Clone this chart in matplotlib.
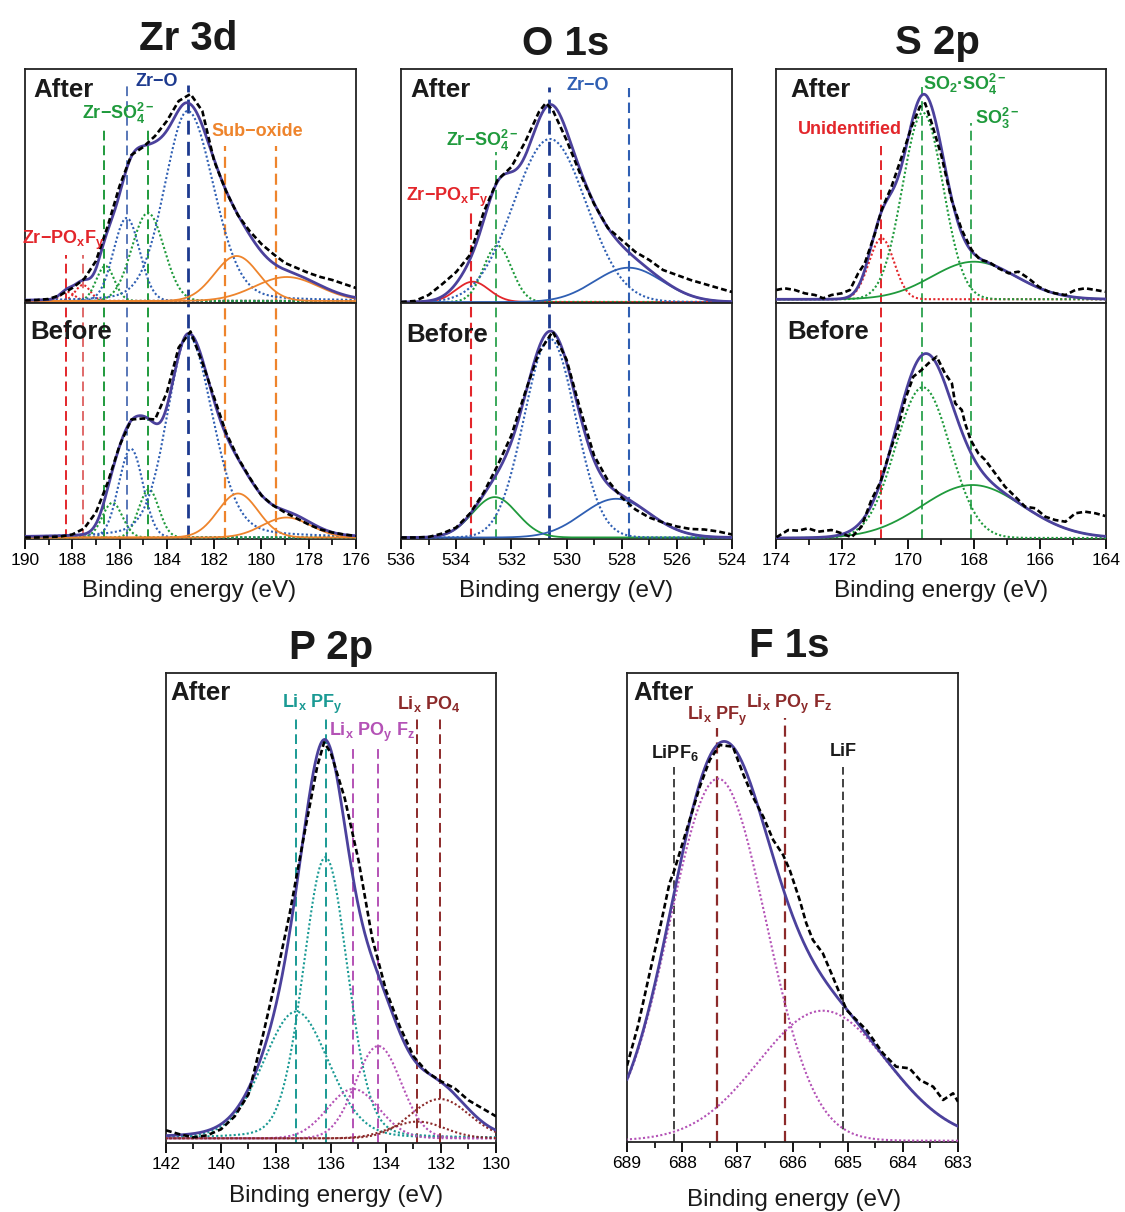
import numpy as np
import matplotlib
matplotlib.use("Agg")
import matplotlib.pyplot as plt
from matplotlib.ticker import MultipleLocator

plt.rcParams['font.family'] = ['Liberation Sans', 'DejaVu Sans']
plt.rcParams['mathtext.fontset'] = 'custom'
plt.rcParams['mathtext.rm'] = 'Liberation Sans'
plt.rcParams['mathtext.bf'] = 'Liberation Sans:bold'
plt.rcParams['mathtext.it'] = 'Liberation Sans:italic'
plt.rcParams['mathtext.sf'] = 'Liberation Sans'

# ---------------------------------------------------------------- data
# fitted components: centre (eV), height (a.u.), FWHM high-BE side, FWHM low-BE side (eV),
# Lorentzian fraction
zr_after_center = [188.2, 187.55, 186.6, 185.7, 184.8, 183.12, 181.05, 178.93]
zr_after_height = [9, 16, 35, 83, 88, 190, 45, 24]
zr_after_fwhm = [0.7, 0.75, 0.9, 1.3, 1.6, 2.3, 2.2, 3.2]
zr_after_fwhm_lo = [0.7, 0.75, 0.9, 1.3, 1.6, 2.6, 2.2, 3.2]
zr_after_eta = [0, 0, 0, 0, 0, 0.18, 0, 0]
zr_after_E = [190, 189.5, 189, 188.5, 188, 187.5, 187, 186.5, 186, 185.5, 185, 184.5, 184,
              183.5, 183, 182.5, 182, 181.5, 181, 180.5, 180, 179.5, 179, 178.5, 178, 177.5,
              177, 176.5, 176]
zr_after_counts = [0.5, 1, 2, 6, 13, 22, 40, 75, 115, 146, 154, 165, 180, 200, 207, 190, 140,
                   110, 86, 70, 57, 47, 38, 33, 28, 24, 21, 17, 13]

zr_before_center = [186.3, 185.52, 184.76, 183.1, 180.99, 178.94]
zr_before_height = [34.7, 88.7, 48, 202, 44, 20]
zr_before_fwhm = [1.0, 1.2, 1.0, 2.1, 2.0, 2.4]
zr_before_fwhm_lo = [1.0, 1.2, 1.0, 2.45, 2.0, 2.4]
zr_before_eta = [0, 0, 0, 0.25, 0, 0]
zr_before_E = zr_after_E
zr_before_counts = [0, 0, 0.5, 1, 3, 9, 25, 55, 92, 118, 119, 118, 145, 190, 206, 175, 140,
                    105, 80, 60, 42, 32, 25, 19, 13, 8, 5, 3, 1.5]
zr_ref_E = [188.25, 187.55, 186.65, 185.7, 184.8, 183.12, 181.55, 179.4]

o_after_center = [533.4, 532.5, 530.6, 527.75, 530.6]
o_after_height = [20.3, 56.3, 163, 34.3, 32]
o_after_fwhm = [1.4, 1.2, 3.1, 2.9, 1.3]
o_after_eta = [0, 0, 0, 0, 0]
o_after_E = [536, 535.5, 535, 534.5, 534, 533.5, 533, 532.5, 532, 531.5, 531, 530.75, 530.5,
             530, 529.5, 529, 528.5, 528, 527.5, 527, 526.5, 526, 525.5, 525, 524.5, 524]
o_after_counts = [0, 1, 7, 18, 30, 47, 90, 122, 135, 160, 190, 199, 192, 162, 128, 98, 74, 62,
                  50, 42, 32, 27, 22, 18, 14, 10]

o_before_center = [532.6, 530.6, 528.2]
o_before_height = [40.4, 198.7, 38.7]
o_before_fwhm = [1.9, 2.2, 2.9]
o_before_eta = [0, 0, 0]
o_before_E = [536, 535.5, 535, 534.5, 534, 533.5, 533, 532.5, 532, 531.5, 531, 530.5, 530,
              529.5, 529, 528.5, 528, 527.5, 527, 526.5, 526, 525.5, 525, 524.5, 524]
o_before_counts = [0, 0, 0.5, 4, 10, 24, 45, 72, 102, 145, 185, 206, 178, 128, 82, 57, 40,
                   28, 20, 15, 11, 8.5, 8, 6, 3]
o_ref_E = [533.45, 532.55, 530.62, 527.75]

s_after_center = [170.8, 169.55, 168.0]
s_after_height = [61, 186.6, 37.6]
s_after_fwhm = [0.9, 1.45, 3.0]
s_after_eta = [0, 0, 0]
s_after_E = [173.99, 173.74, 173.43, 173.13, 172.82, 172.57, 172.32, 172.01, 171.76, 171.51,
             171.31, 171.0, 170.8, 170.5, 170.19, 169.89, 169.64, 169.48, 169.28, 168.98,
             168.68, 168.37, 168.07, 167.81, 167.56, 167.26, 166.95, 166.65, 166.35, 166.04,
             165.74, 165.54, 165.23, 164.93, 164.63, 164.32, 164.02]
s_after_counts = [9.3, 11, 9.3, 6, 4.3, 1, 4.3, 6, 9.3, 26, 36, 66, 89.3, 112.6, 142.6, 172.6,
                  192.6, 196, 176, 142.6, 99.3, 69.3, 49.3, 39.3, 37.6, 31, 26, 27.6, 21,
                  12.6, 7.6, 6, 4.3, 9.3, 11, 9.3, 7.6]

s_before_center = [169.55, 168.05]
s_before_height = [150.7, 53]
s_before_fwhm = [1.95, 3.6]
s_before_eta = [0, 0]
s_before_E = [173.99, 173.63, 173.33, 173.03, 172.72, 172.32, 172.01, 171.71, 171.41, 171.11,
              170.83, 170.6, 170.29, 170.09, 169.84, 169.59, 169.38, 169.13, 168.88, 168.67,
              168.57, 168.37, 168.27, 168.1, 167.87, 167.66, 167.36, 167.06, 166.75, 166.45,
              166.14, 165.84, 165.54, 165.23, 164.93, 164.63, 164.32, 164.02]
s_before_counts = [0.7, 8, 7.3, 9.7, 6.3, 8, 4.7, 0.7, 11.3, 38, 56.3, 81.3, 111.3, 138,
                   161.3, 168, 174.7, 181.3, 164.7, 154.7, 134.7, 128, 114.7, 98, 84.7, 78,
                   64.7, 51.3, 41.3, 31.3, 29.7, 21.3, 18, 16.3, 24.7, 26.3, 24.7, 22]
s_ref_E = [170.83, 169.57, 168.1]

p_center = [137.27, 136.2, 135.19, 134.28, 132.85, 132.04]
p_height = [126.7, 281, 49.3, 92.3, 16.7, 39.3]
p_fwhm = [2.8, 1.9, 2.2, 1.95, 2.3, 2.5]
p_eta = [0.15, 0.15, 0, 0, 0, 0]
p_E = [142, 141.5, 141, 140.5, 140, 139.5, 139, 138.5, 138, 137.5, 137, 136.5, 136.25, 136,
       135.5, 135, 134.5, 134, 133.5, 133, 132.5, 132, 131.5, 131, 130.5, 130]
p_counts = [8, 4, 1, 3, 9, 22, 44, 100, 160, 225, 300, 372, 396, 385, 340, 278, 200, 148, 112,
            82, 66, 57, 50, 38, 30, 22]
p_ref_E = [137.27, 136.18, 135.19, 134.28, 132.88, 132.04]

f_center = [687.35, 685.45]
f_height = [362, 130]
f_fwhm = [2.05, 2.75]
f_eta = [0, 0]
f_E = [689.0, 688.8, 688.6, 688.41, 688.23, 688.14, 687.92, 687.68, 687.5, 687.32, 687.08,
       686.9, 686.72, 686.53, 686.35, 686.17, 686.05, 685.87, 685.75, 685.63, 685.45, 685.27,
       685.02, 684.66, 684.36, 684.12, 683.88, 683.69, 683.45, 683.27, 683.09, 683.0]
f_counts = [75, 115, 165, 210.7, 257.4, 270.7, 310.7, 354, 380.7, 395.7, 394, 367.4, 344, 324,
            300.7, 285.7, 270.7, 240.7, 217.4, 200.7, 187.4, 164, 130.7, 110.7, 87.4, 74, 72.4,
            60.7, 54, 40.7, 47.4, 39]
f_ref_E = [688.14, 687.37, 686.13, 685.08]

# ---------------------------------------------------------------- styles
RED = '#e3262b'; RED2 = '#e06a6a'
GREEN = '#1f9a3c'; GREENL = '#3aa85a'
BLUE = '#2f5fb3'; NAVY = '#1d3a8f'; BLUEL = '#5877b8'
ORANGE = '#ee842c'
TEAL = '#1a9a94'; MAG = '#b452b6'; BROWN = '#8c2a2a'
ENV = '#4b419c'
DOT = (0, (1, 1.1))

W, H = 1125, 1212
fig = plt.figure(figsize=(W / 100, H / 100), dpi=100)


def add_ax(l, t, w, h):
    return fig.add_axes([l / W, 1 - (t + h) / H, w / W, h / H])


def pv(x, c, h, w_hi, w_lo, eta):
    w = np.where(x >= c, w_hi, w_lo)
    d = (x - c) / w
    return h * ((1 - eta) * np.exp(-4 * np.log(2) * d ** 2) + eta / (1 + 4 * d ** 2))


def spectrum(ax, lo, hi, cen, hgt, fw, fw_lo, eta, styles, E, counts, ylim):
    x = np.linspace(lo, hi, 800)
    env = np.zeros_like(x)
    for c, h, w1, w2, e, st in zip(cen, hgt, fw, fw_lo, eta, styles):
        y = pv(x, c, h, w1, w2, e)
        env += y
        if st is None:
            continue
        col, ls = st
        ax.plot(x, y, color=col, ls=ls, lw=1.5 if ls != '-' else 1.3, zorder=3)
    ax.plot(x, env, color=ENV, lw=2.0, zorder=5)
    ax.plot(E, counts, color='black', lw=1.9, ls=(0, (2.2, 1.2)), zorder=6)
    ax.set_xlim(hi, lo)
    ax.set_ylim(*ylim)
    ax.set_yticks([])
    for s in ax.spines.values():
        s.set_linewidth(1.3)
        s.set_color('#222222')


def refs(ax, E, cols, tops, lws=None):
    for i, (e, c, t) in enumerate(zip(E, cols, tops)):
        lw = 1.4 if lws is None else lws[i]
        ax.axvline(e, 0, t, color=c, lw=lw, ls=(0, (5, 2.6)), zorder=2)


def xaxis(ax, major, minor, show=True):
    ax.xaxis.set_major_locator(MultipleLocator(major))
    ax.xaxis.set_minor_locator(MultipleLocator(minor))
    if show:
        ax.tick_params(axis='x', which='major', direction='out', length=7, width=1.3,
                       labelsize=12.5, pad=3)
        ax.tick_params(axis='x', which='minor', direction='out', length=4, width=1.2)
    else:
        ax.tick_params(axis='x', which='both', length=0, labelbottom=False)


def ftext(x, y, s, **kw):
    fig.text(x / W, 1 - y / H, s, **kw)


LAB = dict(fontsize=13, fontweight='bold', ha='center', va='center')
BIG = dict(fontsize=18.5, fontweight='bold', ha='left', va='center', color='#1a1a1a')
TIT = dict(fontsize=29, fontweight='bold', ha='center', va='baseline', color='#1a1a1a')
XL = dict(fontsize=17.5, ha='center', va='baseline', color='#1a1a1a')

# ---------------------------------------------------------------- Zr 3d
za = add_ax(25, 69, 331, 234)
zb = add_ax(25, 303, 331, 236)
zr_ref_cols = [RED, RED2, GREEN, BLUEL, GREEN, NAVY, ORANGE, ORANGE]
zr_ref_lw = [1.4, 1.4, 1.4, 1.4, 1.4, 2.0, 1.6, 1.6]
refs(za, zr_ref_E, zr_ref_cols, [0.205, 0.205, 0.739, 0.932, 0.739, 0.932, 0.671, 0.671], zr_ref_lw)
refs(zb, zr_ref_E, zr_ref_cols, [1] * 8, zr_ref_lw)
spectrum(za, 176, 190, zr_after_center, zr_after_height, zr_after_fwhm, zr_after_fwhm_lo,
         zr_after_eta,
         [(RED, DOT), (RED, DOT), (GREEN, DOT), (BLUE, DOT), (GREEN, DOT), (BLUE, DOT),
          (ORANGE, '-'), (ORANGE, '-')], zr_after_E, zr_after_counts, (-2, 232))
spectrum(zb, 176, 190, zr_before_center, zr_before_height, zr_before_fwhm, zr_before_fwhm_lo,
         zr_before_eta,
         [(GREEN, DOT), (BLUE, DOT), (GREEN, DOT), (BLUE, DOT), (ORANGE, '-'), (ORANGE, '-')],
         zr_before_E, zr_before_counts, (-1.5, 234.5))
xaxis(za, 2, 1, False); xaxis(zb, 2, 1)

# ---------------------------------------------------------------- O 1s
oa = add_ax(401, 69, 331, 234)
ob = add_ax(401, 303, 331, 236)
o_ref_cols = [RED, GREENL, NAVY, BLUE]
o_ref_lw = [1.5, 1.4, 2.0, 1.5]
refs(oa, o_ref_E, o_ref_cols, [0.397, 0.647, 0.924, 0.919], o_ref_lw)
refs(ob, o_ref_E, o_ref_cols, [1] * 4, o_ref_lw)
spectrum(oa, 524, 536, o_after_center, o_after_height, o_after_fwhm, o_after_fwhm, o_after_eta,
         [(RED, '-'), (GREEN, DOT), (BLUE, DOT), (BLUE, '-'), None],
         o_after_E, o_after_counts, (-1, 233))
spectrum(ob, 524, 536, o_before_center, o_before_height, o_before_fwhm, o_before_fwhm,
         o_before_eta, [(GREEN, '-'), (BLUE, DOT), (BLUE, '-')], o_before_E, o_before_counts,
         (-1.5, 234.5))
xaxis(oa, 2, 1, False); xaxis(ob, 2, 1)

# ---------------------------------------------------------------- S 2p
sa = add_ax(776, 69, 330, 234)
sb = add_ax(776, 303, 330, 236)
s_ref_cols = [RED, GREENL, GREENL]
refs(sa, s_ref_E, s_ref_cols, [0.671, 0.924, 0.768])
refs(sb, s_ref_E, s_ref_cols, [1] * 3)
spectrum(sa, 164, 174, s_after_center, s_after_height, s_after_fwhm, s_after_fwhm, s_after_eta,
         [(RED, DOT), (GREEN, DOT), (GREEN, '-')], s_after_E, s_after_counts, (-3.7, 230.3))
spectrum(sb, 164, 174, s_before_center, s_before_height, s_before_fwhm, s_before_fwhm,
         s_before_eta, [(GREEN, DOT), (GREEN, '-')], s_before_E, s_before_counts, (-1, 235))
xaxis(sa, 2, 1, False); xaxis(sb, 2, 1)

# ---------------------------------------------------------------- P 2p
pa = add_ax(166, 673, 330, 470)
refs(pa, p_ref_E, [TEAL, TEAL, MAG, MAG, BROWN, BROWN], [0.904, 0.904, 0.84, 0.84, 0.904, 0.904])
spectrum(pa, 130, 142, p_center, p_height, p_fwhm, p_fwhm, p_eta,
         [(TEAL, DOT), (TEAL, DOT), (MAG, DOT), (MAG, DOT), (BROWN, DOT), (BROWN, DOT)],
         p_E, p_counts, (-4.7, 465.3))
xaxis(pa, 2, 1)

# ---------------------------------------------------------------- F 1s
fa = add_ax(627, 673, 331, 469)
refs(fa, f_ref_E, ['#222222', BROWN, BROWN, '#222222'], [0.80, 0.882, 0.903, 0.80],
     [1.2, 1.6, 1.6, 1.2])
spectrum(fa, 683, 689, f_center, f_height, f_fwhm, f_fwhm, f_eta, [(MAG, DOT), (MAG, DOT)],
         f_E, f_counts, (-1.3, 467.7))
xaxis(fa, 1, 0.5)

# ---------------------------------------------------------------- texts
ftext(188, 50, 'Zr 3d', **TIT)
ftext(566, 55, 'O 1s', **TIT)
ftext(937, 54, 'S 2p', **TIT)
ftext(331, 659, 'P 2p', **TIT)
ftext(789, 657, 'F 1s', **TIT)

for x, y in [(189, 597), (566, 597), (941, 597), (336, 1202), (794, 1206)]:
    ftext(x, y, 'Binding energy (eV)', **XL)

for x, y, s in [(33, 90, 'After'), (30, 332, 'Before'), (410, 90, 'After'), (406, 335, 'Before'),
                (790, 90, 'After'), (787, 332, 'Before'), (170, 693, 'After'), (633, 693, 'After')]:
    ftext(x, y, s, **BIG)

SO4 = r'$\mathbf{_4^{2-}}$'
ftext(157, 82, 'Zr−O', color=NAVY, **LAB)
ftext(118, 113, 'Zr−SO' + SO4, color=GREEN, **LAB)
ftext(257, 131, 'Sub−oxide', color=ORANGE, **LAB)
ftext(63, 240, r'Zr−PO$\mathbf{_x}$F$\mathbf{_y}$', color=RED, **LAB)

ftext(588, 85, 'Zr−O', color=BLUE, **LAB)
ftext(482, 140, 'Zr−SO' + SO4, color=GREEN, **LAB)
ftext(447, 197, r'Zr−PO$\mathbf{_x}$F$\mathbf{_y}$', color=RED, **LAB)

ftext(965, 84, r'SO$\mathbf{_2}$·SO' + SO4, color=GREEN, **LAB)
ftext(997, 118, r'SO$\mathbf{_3^{2-}}$', color=GREEN, **LAB)
ftext(850, 130, 'Unidentified', color=RED, **LAB)

ftext(312, 704, r'Li$\mathbf{_x}$ PF$\mathbf{_y}$', color=TEAL, **LAB)
ftext(372, 732, r'Li$\mathbf{_x}$ PO$\mathbf{_y}$ F$\mathbf{_z}$', color=MAG, **LAB)
ftext(429, 704, r'Li$\mathbf{_x}$ PO$\mathbf{_4}$', color=BROWN, **LAB)

ftext(717, 716, r'Li$\mathbf{_x}$ PF$\mathbf{_y}$', color=BROWN, **LAB)
ftext(789, 704, r'Li$\mathbf{_x}$ PO$\mathbf{_y}$ F$\mathbf{_z}$', color=BROWN, **LAB)
ftext(675, 753, r'LiPF$\mathbf{_6}$', color='#1a1a1a', **LAB)
ftext(843, 752, 'LiF', color='#1a1a1a', **LAB)

fig.savefig('out.png', dpi=100)
